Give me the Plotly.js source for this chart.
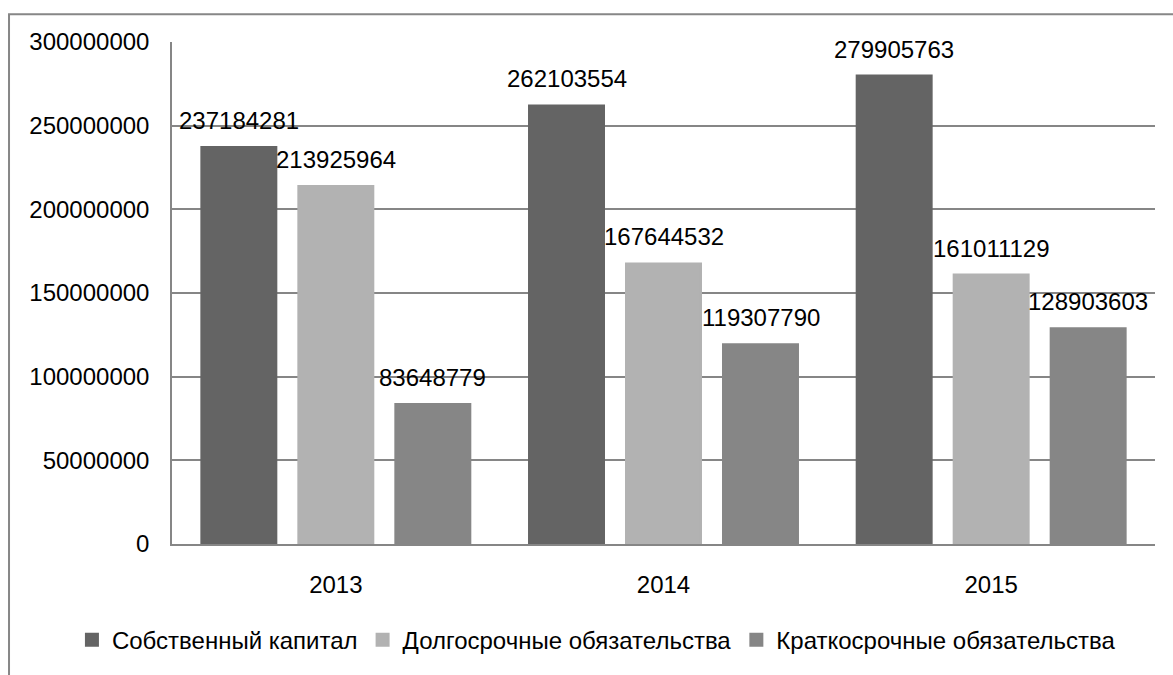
<!DOCTYPE html>
<html>
<head>
<meta charset="utf-8">
<script src="https://cdn.plot.ly/plotly-3.0.1.min.js"></script>
<style>
  html, body { margin: 0; padding: 0; background: #ffffff; }
  #chart { width: 1173px; height: 675px; }
</style>
</head>
<body>
<div id="chart"></div>
<script>
// Years on the category axis
const years = ['2013', '2014', '2015'];

// Balance sheet structure by year
const seriesNames = ['Собственный капитал', 'Долгосрочные обязательства', 'Краткосрочные обязательства'];
const equity = [237184281, 262103554, 279905763];
const longTermDebt = [213925964, 167644532, 161011129];
const shortTermDebt = [83648779, 119307790, 128903603];

// Y axis ticks
const yTicks = [0, 50000000, 100000000, 150000000, 200000000, 250000000, 300000000];

const seriesValues = [equity, longTermDebt, shortTermDebt];
const seriesColors = ['#646464', '#b2b2b2', '#868686'];
const FONT = 'Liberation Sans, Arial, sans-serif';
const TEXT_SIZE = 24;

const traces = seriesValues.map((vals, i) => ({
  type: 'bar',
  name: seriesNames[i],
  x: years,
  y: vals,
  marker: { color: seriesColors[i], line: { color: seriesColors[i], width: 2 } },
  hoverinfo: 'none'
}));

// Value labels above each bar; offset to the bar's slot inside its group
const slotPx = 97;
const annotations = [];
seriesValues.forEach((vals, i) => {
  vals.forEach((v, j) => {
    annotations.push({
      x: j, y: v, xref: 'x', yref: 'y',
      text: String(v),
      showarrow: false,
      xanchor: 'center', yanchor: 'bottom',
      xshift: (i - 1) * slotPx,
      yshift: 11,
      font: { family: FONT, size: TEXT_SIZE, color: '#000000' }
    });
  });
});

const layout = {
  width: 1173,
  height: 675,
  margin: { l: 172, r: 18, t: 42, b: 127 },
  paper_bgcolor: '#ffffff',
  plot_bgcolor: '#ffffff',
  font: { family: FONT, size: TEXT_SIZE, color: '#000000' },
  barmode: 'group',
  bargap: 0.112,
  bargroupgap: 0.227,
  showlegend: true,
  legend: {
    orientation: 'h',
    x: -0.1018, xanchor: 'left',
    y: -0.1917, yanchor: 'middle',
    font: { family: FONT, size: TEXT_SIZE, color: '#000000' },
    traceorder: 'normal'
  },
  xaxis: {
    type: 'category',
    showgrid: false,
    showline: true,
    linecolor: '#868686',
    linewidth: 1.5,
    ticks: 'outside',
    ticklen: 18,
    tickcolor: 'rgba(0,0,0,0)',
    tickfont: { family: FONT, size: TEXT_SIZE, color: '#000000' }
  },
  yaxis: {
    range: [0, 300000000],
    tickmode: 'array',
    tickvals: yTicks,
    ticktext: yTicks.map(String),
    showgrid: true,
    gridcolor: '#868686',
    gridwidth: 1.5,
    zeroline: false,
    showline: true,
    linecolor: '#868686',
    linewidth: 1.5,
    ticks: 'outside',
    ticklen: 16,
    tickcolor: 'rgba(0,0,0,0)',
    tickfont: { family: FONT, size: TEXT_SIZE, color: '#000000' }
  },
  annotations: annotations,
  shapes: [
    // outer chart frame; its right and bottom edges run past the page
    {
      type: 'rect', xref: 'paper', yref: 'paper',
      x0: -0.1658, x1: 1.05, y0: -0.3, y1: 1.0553,
      line: { color: '#878787', width: 2 },
      fillcolor: 'rgba(0,0,0,0)',
      layer: 'below'
    }
  ]
};

Plotly.newPlot('chart', traces, layout, { displayModeBar: false });
</script>
</body>
</html>
